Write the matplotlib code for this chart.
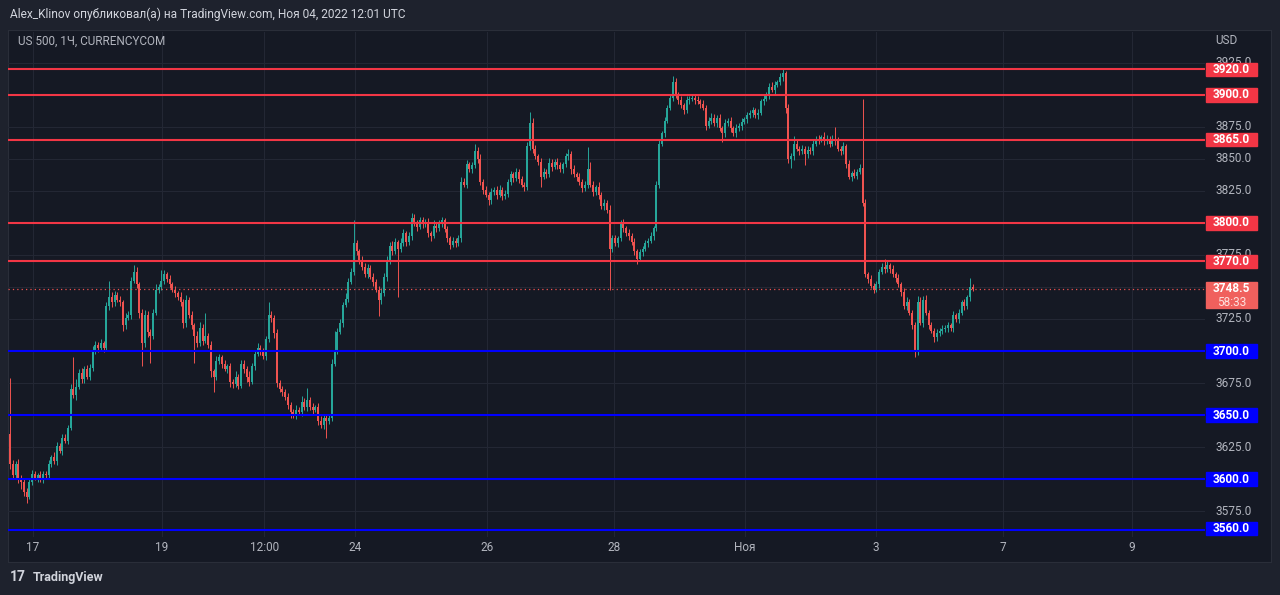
import matplotlib.pyplot as plt
from matplotlib.patches import Rectangle

plt.rcParams['font.family'] = ['Roboto', 'DejaVu Sans']

# hourly candles, US 500 (CURRENCYCOM)
first_open = 3635.0
closes = [
    3612, 3603, 3612, 3600, 3598, 3590, 3586, 3598, 3604, 3601,
    3603, 3600, 3604, 3603, 3612, 3617, 3614, 3626, 3622, 3632,
    3630, 3640, 3670, 3666, 3672, 3683, 3678, 3686, 3680, 3687,
    3700, 3705, 3702, 3706, 3702, 3735, 3742, 3738, 3744, 3740,
    3738, 3720, 3726, 3728, 3755, 3762, 3752, 3730, 3706, 3728,
    3715, 3712, 3730, 3748, 3750, 3755, 3760, 3756, 3752, 3748,
    3745, 3742, 3738, 3722, 3740, 3728, 3720, 3712, 3706, 3718,
    3708, 3712, 3705, 3684, 3680, 3692, 3695, 3690, 3686, 3688,
    3676, 3674, 3680, 3673, 3690, 3686, 3680, 3676, 3688, 3698,
    3702, 3700, 3696, 3709, 3728, 3726, 3714, 3675, 3670, 3668,
    3664, 3658, 3652, 3650, 3654, 3652, 3660, 3656, 3662, 3656,
    3654, 3656, 3645, 3642, 3648, 3645, 3648, 3690, 3701, 3715,
    3722, 3736, 3741, 3754, 3762, 3784, 3778, 3770, 3766, 3760,
    3765, 3758, 3754, 3748, 3740, 3745, 3758, 3770, 3782, 3778,
    3785, 3780, 3784, 3792, 3785, 3790, 3804, 3800, 3797, 3802,
    3799, 3801, 3792, 3790, 3798, 3796, 3800, 3802, 3795, 3788,
    3783, 3786, 3784, 3788, 3832, 3830, 3846, 3842, 3845, 3856,
    3850, 3832, 3826, 3822, 3818, 3824, 3826, 3822, 3826, 3821,
    3823, 3832, 3838, 3835, 3840, 3834, 3830, 3828, 3860, 3878,
    3858, 3852, 3848, 3836, 3840, 3838, 3847, 3844, 3848, 3845,
    3842, 3846, 3852, 3854, 3842, 3838, 3836, 3832, 3827, 3830,
    3842, 3830, 3824, 3828, 3822, 3813, 3816, 3810, 3780, 3788,
    3784, 3788, 3799, 3796, 3792, 3790, 3785, 3778, 3772, 3777,
    3780, 3784, 3786, 3790, 3796, 3830, 3862, 3870, 3880, 3890,
    3898, 3910, 3900, 3896, 3892, 3888, 3896, 3897, 3898, 3896,
    3895, 3893, 3890, 3876, 3880, 3882, 3878, 3882, 3874, 3870,
    3878, 3880, 3874, 3870, 3874, 3876, 3879, 3881, 3884, 3886,
    3888, 3884, 3886, 3895, 3897, 3900, 3906, 3904, 3908, 3910,
    3914, 3917, 3890, 3850, 3852, 3862, 3858, 3856, 3858, 3854,
    3857, 3856, 3862, 3866, 3865, 3867, 3864, 3866, 3862, 3866,
    3864, 3858, 3856, 3860, 3846, 3836, 3839, 3837, 3840, 3843,
    3816, 3760, 3756, 3751, 3748, 3752, 3762, 3766, 3764, 3767,
    3764, 3760, 3757, 3752, 3746, 3735, 3738, 3730, 3720, 3700,
    3738, 3722, 3740, 3730, 3720, 3716, 3711, 3714, 3716, 3717,
    3718, 3720, 3718, 3728, 3725, 3730, 3738, 3735, 3742, 3750, 3748.5,
]
# wick length above / below the body, in points
upper_wick = [
    44, 3, 2, 4, 3, 2, 3, 2, 3, 2,
    2, 3, 2, 2, 3, 2, 4, 3, 2, 3,
    3, 2, 4, 25, 6, 3, 4, 2, 3, 3,
    4, 3, 2, 3, 2, 3, 13, 4, 3, 2,
    3, 2, 4, 3, 3, 5, 4, 2, 3, 4,
    3, 2, 3, 4, 2, 8, 3, 2, 3, 2,
    3, 2, 4, 3, 4, 2, 3, 2, 4, 5,
    3, 18, 2, 3, 2, 4, 3, 2, 3, 2,
    3, 2, 4, 2, 3, 3, 2, 4, 3, 2,
    4, 3, 2, 3, 10, 3, 2, 3, 2, 3,
    2, 3, 2, 3, 4, 2, 5, 3, 9, 2,
    3, 2, 3, 4, 3, 2, 3, 4, 15, 3,
    3, 2, 4, 3, 3, 18, 3, 2, 4, 3,
    3, 2, 3, 2, 3, 4, 3, 4, 3, 4,
    3, 2, 4, 3, 2, 3, 4, 3, 2, 3,
    3, 2, 3, 2, 4, 3, 2, 3, 2, 3,
    2, 3, 2, 3, 4, 3, 3, 2, 3, 6,
    3, 4, 2, 3, 2, 3, 2, 3, 4, 2,
    3, 2, 3, 2, 3, 2, 3, 2, 3, 9,
    4, 3, 2, 3, 3, 2, 4, 3, 2, 3,
    3, 2, 3, 4, 2, 3, 2, 3, 2, 3,
    17, 6, 3, 2, 4, 2, 3, 2, 4, 3,
    3, 2, 3, 4, 2, 3, 2, 3, 2, 3,
    2, 3, 2, 3, 2, 3, 3, 2, 3, 2,
    3, 5, 3, 2, 3, 2, 3, 2, 3, 2,
    3, 2, 3, 2, 3, 4, 3, 2, 3, 2,
    3, 2, 3, 2, 3, 2, 3, 2, 3, 2,
    3, 2, 3, 2, 3, 2, 3, 4, 3, 2,
    3, 3, 2, 3, 3, 6, 3, 2, 3, 2,
    3, 2, 3, 2, 3, 2, 4, 3, 2, 3,
    9, 3, 2, 3, 2, 3, 2, 3, 2, 3,
    54, 3, 2, 3, 2, 3, 2, 3, 6, 3,
    2, 3, 2, 3, 2, 3, 4, 3, 2, 3,
    5, 4, 3, 4, 2, 3, 2, 3, 2, 3,
    2, 3, 2, 3, 2, 3, 2, 3, 2, 7, 2,
]
lower_wick = [
    4, 3, 2, 3, 6, 3, 5, 2, 3, 2,
    3, 2, 3, 2, 2, 3, 2, 3, 2, 3,
    2, 3, 2, 3, 4, 2, 3, 3, 2, 3,
    3, 2, 3, 2, 3, 2, 3, 4, 3, 2,
    3, 4, 3, 2, 3, 2, 3, 4, 18, 3,
    4, 21, 3, 2, 3, 2, 3, 2, 3, 2,
    3, 2, 3, 4, 3, 2, 3, 21, 3, 2,
    3, 2, 3, 4, 12, 3, 2, 3, 2, 3,
    4, 3, 2, 3, 2, 3, 4, 3, 2, 3,
    2, 3, 2, 3, 2, 3, 4, 3, 2, 3,
    2, 3, 4, 2, 3, 2, 3, 2, 3, 2,
    3, 2, 3, 2, 3, 13, 2, 3, 2, 3,
    2, 3, 2, 3, 2, 3, 3, 2, 3, 2,
    3, 2, 3, 2, 13, 3, 2, 3, 2, 3,
    2, 38, 3, 2, 3, 2, 3, 2, 3, 2,
    3, 2, 3, 4, 2, 3, 2, 3, 2, 3,
    3, 2, 3, 2, 3, 2, 3, 2, 3, 2,
    3, 2, 3, 2, 4, 3, 2, 3, 2, 3,
    2, 3, 2, 3, 2, 3, 2, 3, 2, 3,
    3, 2, 3, 8, 2, 3, 2, 3, 2, 3,
    2, 3, 2, 3, 4, 2, 3, 2, 3, 2,
    3, 2, 3, 2, 3, 2, 3, 2, 32, 3,
    2, 3, 2, 3, 2, 3, 2, 3, 4, 2,
    3, 2, 3, 2, 3, 2, 3, 2, 3, 2,
    2, 3, 2, 3, 2, 3, 2, 3, 2, 3,
    2, 3, 2, 3, 2, 3, 2, 3, 2, 7,
    3, 2, 3, 2, 3, 2, 3, 2, 3, 2,
    3, 2, 3, 2, 3, 2, 3, 2, 3, 2,
    2, 3, 4, 3, 7, 3, 2, 3, 2, 9,
    3, 2, 3, 2, 3, 2, 3, 2, 3, 2,
    3, 2, 3, 2, 3, 2, 3, 2, 3, 2,
    3, 2, 3, 2, 3, 2, 3, 2, 3, 2,
    3, 2, 3, 2, 3, 2, 3, 2, 3, 5,
    3, 2, 3, 2, 3, 2, 4, 3, 2, 3,
    2, 3, 2, 3, 2, 3, 2, 3, 2, 3, 2,
]

red_levels = [3920, 3900, 3865, 3800, 3770]
blue_levels = [3700, 3650, 3600, 3560]
last_price = 3748.5
countdown = '58:33'
# scale labels that are not covered by a level box
price_ticks = [3575, 3625, 3675, 3725, 3775, 3825, 3850, 3875, 3925]
grid_prices = [3575, 3600, 3625, 3650, 3675, 3700, 3725, 3750, 3775,
               3800, 3825, 3850, 3875, 3900, 3925]
time_ticks = [8.4, 55.3, 92.4, 125.5, 173.5, 219.6, 267.3, 314.9, 361.1, 408.0]
time_labels = ['17', '19', '12:00', '24', '26', '28', 'Ноя', '3', '7', '9']

BG = '#151924'
FRAME = '#1e222d'
GRID = '#232734'
TXT = '#b2b5be'
UP = '#26a69a'
DOWN = '#ef5350'
RED_LVL = '#f23645'
BLUE_LVL = '#0000ff'

W, H = 1280, 595
fig = plt.figure(figsize=(12.8, 5.95), dpi=100, facecolor=FRAME)

def px_rect(x0, y0, x1, y1):
    return [x0 / W, 1 - y1 / H, (x1 - x0) / W, (y1 - y0) / H]

pane = fig.add_axes(px_rect(8, 30, 1271, 562))
pane.set_facecolor(BG)
pane.set_xticks([])
pane.set_yticks([])
for s in pane.spines.values():
    s.set_color('#2a2e39')

ax = fig.add_axes(px_rect(8, 32, 1205, 537))
ax.set_facecolor('none')
ymin, ymax = 3554.7, 3949.2
ax.set_ylim(ymin, ymax)
ax.set_xlim(-0.73, 434.5)
for s in ax.spines.values():
    s.set_visible(False)

# grid
for p in grid_prices:
    ax.axhline(p, color=GRID, lw=0.8, zorder=0)
for t in time_ticks:
    ax.axvline(t, color=GRID, lw=0.8, zorder=0)

# candles
opens = [first_open] + closes[:-1]
idx = list(range(len(closes)))
cols, bottoms, heights, highs, lows = [], [], [], [], []
for o, c, u, d in zip(opens, closes, upper_wick, lower_wick):
    cols.append(UP if c >= o else DOWN)
    bottoms.append(min(o, c))
    heights.append(max(abs(c - o), 0.7))
    highs.append(max(o, c) + u)
    lows.append(min(o, c) - d)
ax.vlines(idx, lows, highs, colors=cols, lw=0.7, zorder=2)
ax.bar(idx, heights, bottom=bottoms, width=0.72, color=cols, lw=0, zorder=3)

# levels
for p in red_levels:
    ax.axhline(p, color=RED_LVL, lw=1.5, zorder=4)
for p in blue_levels:
    ax.axhline(p, color=BLUE_LVL, lw=1.5, zorder=4)
ax.axhline(last_price, color=DOWN, lw=0.9, ls=(0, (1, 2.5)), zorder=4)

ax.set_yticks([])
ax.set_xticks(time_ticks)
ax.set_xticklabels(time_labels, color=TXT, fontsize=8.5)
ax.tick_params(axis='x', length=0, pad=3)

# price scale
pax = fig.add_axes(px_rect(1205, 32, 1270, 537))
pax.set_facecolor('none')
pax.set_xlim(0, 65)
pax.set_ylim(ymin, ymax)
pax.axis('off')
for p in price_ticks:
    pax.text(29, p, f'{p:.1f}', ha='center', va='center', color=TXT,
             fontsize=8.5, zorder=1, clip_on=False)
box_h = 10.4

def level_box(p, color):
    # the lowest box is pushed up so it stays inside the scale
    yc = max(p, ymin + box_h / 2 + 1.5)
    pax.add_patch(Rectangle((1, yc - box_h / 2), 51, box_h, color=color, zorder=5, clip_on=False))
    pax.text(26.5, yc, f'{p:.1f}', ha='center', va='center', color='white',
             fontsize=8.5, fontweight='bold', zorder=6, clip_on=False)

for p in red_levels:
    level_box(p, RED_LVL)
for p in blue_levels:
    level_box(p, BLUE_LVL)
pax.add_patch(Rectangle((1, 3733.6), 51, 20.3, color='#f0605d', zorder=5))
pax.text(26.5, 3748.6, f'{last_price:.1f}', ha='center', va='center', color='white',
         fontsize=8.5, fontweight='bold', zorder=6)
pax.text(26.5, 3737.8, countdown, ha='center', va='center', color='#fde0de',
         fontsize=8.5, zorder=6)

# texts
fig.text(10 / W, 1 - 14 / H, 'Alex_Klinov опубликовал(а) на TradingView.com, Ноя 04, 2022 12:01 UTC',
         color='#d1d4dc', fontsize=8.6, va='center', ha='left')
fig.text(18 / W, 1 - 41 / H, 'US 500, 1Ч, CURRENCYCOM', color=TXT, fontsize=8.5,
         va='center', ha='left')
fig.text(1215 / W, 1 - 41 / H, 'USD', color=TXT, fontsize=8.5, va='center', ha='left')
fig.text(10 / W, 1 - 577 / H, '17', color='#d1d4dc', fontsize=10, fontweight='bold',
         va='center', ha='left')
fig.text(33 / W, 1 - 577 / H, 'TradingView', color='#d1d4dc', fontsize=9,
         fontweight='bold', va='center', ha='left')

fig.savefig('out.png', dpi=100, facecolor=FRAME)
